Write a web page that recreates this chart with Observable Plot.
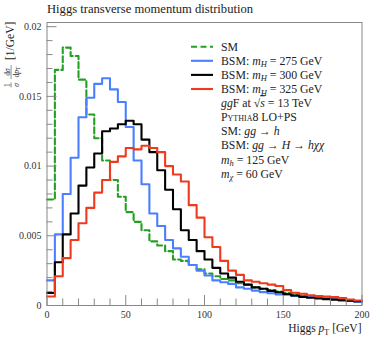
<!DOCTYPE html>
<html><head><meta charset="utf-8">
<script src="https://cdn.jsdelivr.net/npm/d3@7"></script>
<script src="https://cdn.jsdelivr.net/npm/@observablehq/plot@0.6"></script>
<style>html,body{margin:0;padding:0;background:#fff}svg{display:block}</style>
</head><body><div id="chart"></div>
<script>
// bin lower edges (GeV), 5 GeV bins
const binEdges = [0,5,10,15,20,25,30,35,40,45,50,55,60,65,70,75,80,85,90,95,100,105,110,115,120,125,130,135,140,145,150,155,160,165,170,175,180,185,190,195];
const xEnd = 200;
// SM: gg -> h
const smValues = [0.0076,0.0169,0.0185,0.0179,0.0162,0.0137,0.0120,0.0104,0.0090,0.0078,0.0067,0.0060,0.0054,0.0046,0.0043,0.0039,0.0033,0.0032,0.0029,0.0026,0.0023,0.0021,0.0019,0.0018,0.0016,0.0015,0.0013,0.0012,0.0011,0.0010,0.0009,0.0008,0.00072,0.00065,0.00058,0.0005,0.00045,0.0004,0.00035,0.0003];
// BSM mH = 275 GeV
const bsm275Values = [0.0018,0.0051,0.0080,0.0106,0.0135,0.0149,0.0159,0.0163,0.0155,0.0146,0.0128,0.0104,0.0087,0.0066,0.0057,0.0047,0.0041,0.0035,0.0029,0.0025,0.00215,0.0018,0.00167,0.00155,0.0013,0.0012,0.00107,0.00096,0.00088,0.0008,0.00078,0.00068,0.00066,0.0006,0.00058,0.00049,0.00047,0.00037,0.00035,0.00025];
// BSM mH = 300 GeV
const bsm300Values = [0.0009,0.0031,0.0051,0.0066,0.0086,0.0099,0.0109,0.0125,0.0127,0.0130,0.01325,0.0130,0.0119,0.0110,0.0097,0.0083,0.0069,0.0054,0.0047,0.0039,0.0033,0.0027,0.0023,0.0020,0.0017,0.0015,0.0013,0.0012,0.00105,0.00095,0.00082,0.00072,0.00062,0.00056,0.0005,0.00046,0.00042,0.00038,0.00034,0.0003];
// BSM mH = 325 GeV
const bsm325Values = [0.00065,0.0021,0.0034,0.0047,0.0059,0.0070,0.0081,0.0090,0.0103,0.0107,0.0113,0.0112,0.01146,0.0113,0.0110,0.0100,0.0094,0.0089,0.0072,0.0063,0.0049,0.0042,0.0032,0.0025,0.0022,0.0018,0.0017,0.0016,0.0015,0.0014,0.0011,0.00091,0.00084,0.00074,0.00067,0.00064,0.0006,0.00053,0.00043,0.00036];

const xMajorTicks = [0,50,100,150,200];
const xMinorTicks = [10,20,30,40,60,70,80,90,110,120,130,140,160,170,180,190];
const yMajorTicks = [0,0.005,0.01,0.015,0.02];
const yTickLabels = ["0","0.005","0.01","0.015","0.02"];
const yMinorTicks = [0.001,0.002,0.003,0.004,0.006,0.007,0.008,0.009,0.011,0.012,0.013,0.014,0.016,0.017,0.018,0.019];

const colors = {sm:"#23a023", b275:"#4a80ff", b300:"#000000", b325:"#f03a1e"};

function stepRows(vals){
  const r = binEdges.map((x,i)=>({x, y: vals[i]}));
  r.push({x: xEnd, y: vals[vals.length-1]});
  return r;
}

const FONT = "'Liberation Serif', 'DejaVu Serif', serif";
const plot = Plot.plot({
  width: 374, height: 337,
  marginLeft: 46.5, marginRight: 12.5, marginTop: 22, marginBottom: 32,
  style: {fontFamily: FONT, fontSize: "10px", background: "#fff", color: "#333", overflow: "visible"},
  x: {domain: [0, 200], label: null},
  y: {domain: [0, 0.0203], label: null},
  marks: [
    Plot.lineY(stepRows(smValues), {x:"x", y:"y", curve:"step-after", stroke: colors.sm, strokeWidth: 2.1, strokeDasharray: "6,3"}),
    Plot.lineY(stepRows(bsm275Values), {x:"x", y:"y", curve:"step-after", stroke: colors.b275, strokeWidth: 2.1}),
    Plot.lineY(stepRows(bsm300Values), {x:"x", y:"y", curve:"step-after", stroke: colors.b300, strokeWidth: 2.1}),
    Plot.lineY(stepRows(bsm325Values), {x:"x", y:"y", curve:"step-after", stroke: colors.b325, strokeWidth: 2.1}),
    Plot.axisX(xMajorTicks, {tickSize: -10, tickFormat: () => "", stroke: "#888"}),
    Plot.axisX(xMinorTicks, {tickSize: -6.5, tickFormat: () => "", stroke: "#888"}),
    Plot.axisX(xMajorTicks, {tickSize: 0, tickPadding: 5, fontSize: 10, fill: "#333"}),
    Plot.axisY(yMajorTicks, {tickSize: -10, tickFormat: () => "", stroke: "#888"}),
    Plot.axisY(yMinorTicks, {tickSize: -6, tickFormat: () => "", stroke: "#888"}),
    Plot.axisY(yMajorTicks, {tickSize: 0, tickPadding: 5.5, fontSize: 10, fill: "#333", tickFormat: (d) => yTickLabels[yMajorTicks.indexOf(d)]}),
    Plot.frame({stroke: "#888"})
  ]
});
document.getElementById("chart").appendChild(plot);

const svg = d3.select(plot);
// Title
svg.append("text").attr("x", 47).attr("y", 13).attr("text-anchor", "start").attr("font-family", FONT).attr("font-size", 12.6).attr("fill", "#222")
  .text("Higgs transverse momentum distribution");

// x label
const xl = svg.append("text").attr("x", 361.5).attr("y", 332).attr("text-anchor", "end")
  .attr("font-family", FONT).attr("font-size", 11.5).attr("fill", "#222");
xl.append("tspan").text("Higgs ");
xl.append("tspan").attr("font-style", "italic").text("p");
xl.append("tspan").attr("font-size", 8).attr("dy", 2.5).text("T");
xl.append("tspan").attr("dy", -2.5).text(" [GeV]");

// y label (rotated) with stacked fractions
const yl = svg.append("g").attr("transform", "translate(14,89) rotate(-90)")
  .attr("font-family", FONT).attr("fill", "#222").attr("text-anchor", "start");
function frac(g, cx, num, den, w){
  num(g.append("text").attr("x", cx).attr("y", -4.3).attr("text-anchor", "middle").attr("font-size", 7.5));
  g.append("line").attr("x1", cx - w/2).attr("x2", cx + w/2).attr("y1", -2.9).attr("y2", -2.9).attr("stroke", "#222").attr("stroke-width", 0.5);
  den(g.append("text").attr("x", cx).attr("y", 4.8).attr("text-anchor", "middle").attr("font-size", 7.5));
}
frac(yl, 4, t => t.text("1"), t => t.attr("font-style","italic").text("σ"), 5);
frac(yl, 17, t => { t.append("tspan").text("d"); t.append("tspan").attr("font-style","italic").text("σ"); },
  t => { t.append("tspan").text("d"); t.append("tspan").attr("font-style","italic").text("p"); t.append("tspan").attr("font-size",5.5).attr("dy",1.5).text("T"); }, 14);
yl.append("text").attr("x", 29).attr("y", 0).attr("font-size", 11.5).attr("text-anchor", "start").text("[1/GeV]");

// Legend
const legendY0 = 46.7, legendDy = 14.1, lx1 = 191, lx2 = 213, tx = 221;
const lg = svg.append("g").attr("font-family", FONT).attr("font-size", 11.8).attr("fill", "#222").attr("text-anchor", "start");
const legendLines = [
  {c: colors.sm, dash: "6,3.5"}, {c: colors.b275}, {c: colors.b300}, {c: colors.b325}
];
const mH = ["275", "300", "325"];
legendLines.forEach((d, i) => {
  const y = legendY0 + i * legendDy;
  lg.append("line").attr("x1", lx1).attr("x2", lx2).attr("y1", y).attr("y2", y)
    .attr("stroke", d.c).attr("stroke-width", 2.1).attr("stroke-dasharray", d.dash || null);
});
function row(i){ return lg.append("text").attr("x", tx).attr("y", legendY0 + i * legendDy + 4).attr("text-anchor", "start"); }
row(0).text("SM");
mH.forEach((m, k) => {
  const t = row(k + 1);
  t.append("tspan").text("BSM: ");
  t.append("tspan").attr("font-style", "italic").text("m");
  t.append("tspan").attr("font-style", "italic").attr("font-size", 8.5).attr("dy", 2.5).text("H");
  t.append("tspan").attr("dy", -2.5).text(" = " + m + " GeV");
});
{ const t = row(4);
  t.append("tspan").attr("font-style", "italic").text("gg");
  t.append("tspan").text("F at √");
  t.append("tspan").attr("font-style", "italic").attr("text-decoration", "overline").text("s");
  t.append("tspan").text(" = 13 TeV"); }
{ const t = row(5);
  t.append("tspan").attr("font-variant", "small-caps").text("Pythia8");
  t.append("tspan").text(" LO+PS"); }
{ const t = row(6);
  t.append("tspan").text("SM: ");
  t.append("tspan").attr("font-style", "italic").text("gg");
  t.append("tspan").text(" → ");
  t.append("tspan").attr("font-style", "italic").text("h"); }
{ const t = row(7);
  t.append("tspan").text("BSM: ");
  t.append("tspan").attr("font-style", "italic").text("gg");
  t.append("tspan").text(" → ");
  t.append("tspan").attr("font-style", "italic").text("H");
  t.append("tspan").text(" → ");
  t.append("tspan").attr("font-style", "italic").text("hχχ"); }
{ const t = row(8);
  t.append("tspan").attr("font-style", "italic").text("m");
  t.append("tspan").attr("font-style", "italic").attr("font-size", 8.5).attr("dy", 2.5).text("h");
  t.append("tspan").attr("dy", -2.5).text(" = 125 GeV"); }
{ const t = row(9);
  t.append("tspan").attr("font-style", "italic").text("m");
  t.append("tspan").attr("font-style", "italic").attr("font-size", 8.5).attr("dy", 2.5).text("χ");
  t.append("tspan").attr("dy", -2.5).text(" = 60 GeV"); }
</script>
</body></html>
